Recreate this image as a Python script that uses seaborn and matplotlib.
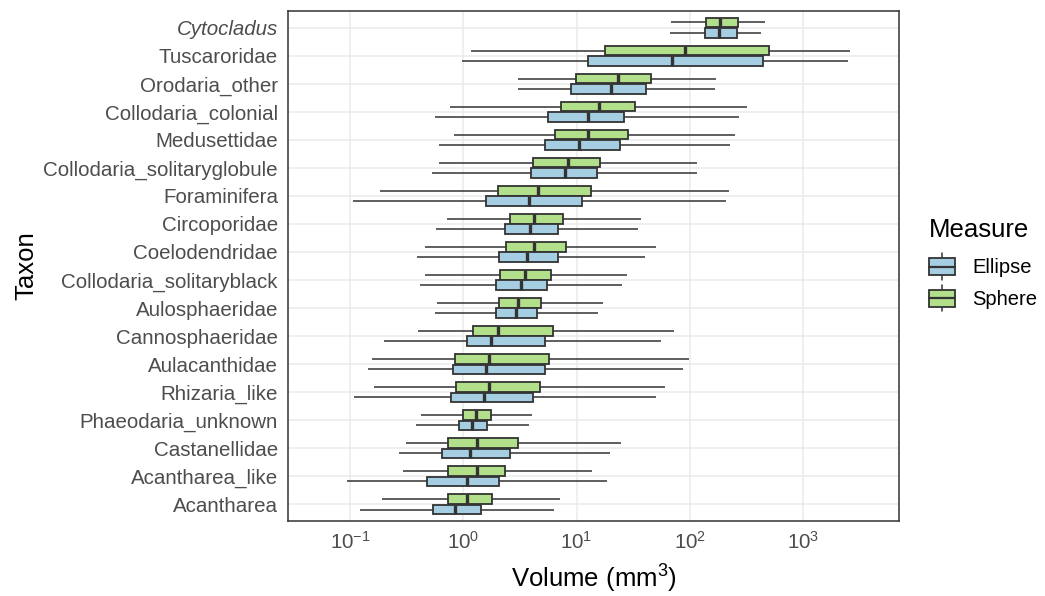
import numpy as np
import pandas as pd
import matplotlib
matplotlib.use("Agg")
import matplotlib.pyplot as plt
from matplotlib.patches import Rectangle, Patch
from matplotlib.lines import Line2D
from matplotlib.legend_handler import HandlerBase
from matplotlib.ticker import NullLocator
import seaborn as sns

# Taxa from top to bottom
taxa = ["Cytocladus", "Tuscaroridae", "Orodaria_other", "Collodaria_colonial",
        "Medusettidae", "Collodaria_solitaryglobule", "Foraminifera", "Circoporidae",
        "Coelodendridae", "Collodaria_solitaryblack", "Aulosphaeridae", "Cannosphaeridae",
        "Aulacanthidae", "Rhizaria_like", "Phaeodaria_unknown", "Castanellidae",
        "Acantharea_like", "Acantharea"]

# Box summaries (mm^3): whisker low, Q1, median, Q3, whisker high
ellipse_low = [66.9, 0.976, 3.01, 0.560, 0.612, 0.525, 0.105, 0.578, 0.387, 0.416,
               0.565, 0.200, 0.143, 0.107, 0.384, 0.272, 0.093, 0.122]
ellipse_q1 = [136, 12.7, 8.86, 5.64, 5.29, 3.93, 1.57, 2.31, 2.05, 1.94,
              1.95, 1.08, 0.805, 0.779, 0.908, 0.653, 0.473, 0.534]
ellipse_med = [181, 69.6, 20.1, 12.5, 10.6, 7.85, 3.78, 3.87, 3.63, 3.21,
               2.90, 1.77, 1.58, 1.53, 1.20, 1.15, 1.08, 0.845]
ellipse_q3 = [261, 447, 41.2, 26.5, 24.0, 15.2, 11.2, 6.90, 6.79, 5.47,
              4.47, 5.25, 5.29, 4.16, 1.61, 2.56, 2.06, 1.44]
ellipse_high = [430, 2525, 166, 271, 225, 115, 208, 34.8, 39.9, 25.2,
                15.5, 55.6, 86.5, 50.8, 3.81, 19.7, 18.6, 6.27]

sphere_low = [67.9, 1.16, 3.04, 0.754, 0.818, 0.612, 0.183, 0.719, 0.454, 0.458,
              0.588, 0.399, 0.157, 0.163, 0.426, 0.314, 0.292, 0.189]
sphere_q1 = [140, 17.9, 9.84, 7.25, 6.42, 4.16, 2.01, 2.56, 2.39, 2.10,
             2.06, 1.21, 0.845, 0.859, 0.984, 0.731, 0.731, 0.725]
sphere_med = [186, 91.5, 23.3, 15.7, 12.5, 8.38, 4.58, 4.23, 4.23, 3.48,
              3.06, 2.01, 1.69, 1.69, 1.30, 1.32, 1.33, 1.08]
sphere_q3 = [265, 505, 45.8, 32.9, 28.7, 16.2, 13.5, 7.60, 8.11, 5.93,
             4.84, 6.22, 5.74, 4.73, 1.74, 3.01, 2.35, 1.80]
sphere_high = [462, 2608, 170, 319, 252, 116, 222, 37.4, 50.0, 27.8,
               17.1, 71.9, 99.2, 60.2, 4.06, 24.6, 13.6, 7.13]

measures = ["Ellipse", "Sphere"]
colors = {"Ellipse": "#A6CEE3", "Sphere": "#B2DF8A"}
x_ticks = [0.1, 1, 10, 100, 1000]

# Long table: five summary values per taxon and measure
rows = []
for m, cols in (("Ellipse", (ellipse_low, ellipse_q1, ellipse_med, ellipse_q3, ellipse_high)),
                ("Sphere", (sphere_low, sphere_q1, sphere_med, sphere_q3, sphere_high))):
    for i, t in enumerate(taxa):
        for c in cols:
            rows.append({"Taxon": t, "Measure": m, "Volume": c[i]})
df = pd.DataFrame(rows)

sns.set_style("white")
plt.rcParams["font.family"] = ["Liberation Sans", "DejaVu Sans"]
plt.rcParams["mathtext.fontset"] = "custom"
plt.rcParams["mathtext.rm"] = "Liberation Sans"
plt.rcParams["mathtext.it"] = "Liberation Sans:italic"
plt.rcParams["mathtext.default"] = "regular"

dark = "#333333"
fig = plt.figure(figsize=(10.45, 5.96), dpi=100)
ax = fig.add_axes([288 / 1045, 1 - 521 / 596, (899 - 288) / 1045, (521 - 11) / 596])

sns.boxplot(data=df, x="Volume", y="Taxon", hue="Measure", order=taxa,
            hue_order=["Sphere", "Ellipse"], palette=colors, saturation=1, orient="h",
            log_scale=True, whis=(0, 100), showfliers=False, width=0.76, gap=0.08,
            linecolor=dark, linewidth=1.3,
            whiskerprops={"linewidth": 1.1},
            medianprops={"color": dark, "linewidth": 2.4, "solid_capstyle": "butt"},
            capprops={"linewidth": 0}, legend=False, ax=ax)

ax.set_xlim(0.0282, 7063)
ax.set_ylim(len(taxa) - 0.4, -0.6)
ax.set_xticks(x_ticks)
ax.xaxis.set_minor_locator(NullLocator())
ax.grid(True, which="major", color="#EBEBEB", linewidth=1.1)
ax.set_axisbelow(True)
for s in ax.spines.values():
    s.set_color(dark)
    s.set_linewidth(1.1)
ax.tick_params(axis="both", which="major", length=3.2, width=1.0, color=dark,
               labelcolor="#4D4D4D", labelsize=14.75, pad=4)
for lbl in ax.get_yticklabels():
    if lbl.get_text() == "Cytocladus":
        lbl.set_fontstyle("italic")

ax.set_xlabel("Volume (mm$^{3}$)", fontsize=18.5, color="black", labelpad=7)
ax.set_ylabel("Taxon", fontsize=18.5, color="black", labelpad=4)


class BoxKey(HandlerBase):
    def create_artists(self, legend, orig_handle, xdescent, ydescent, width, height,
                       fontsize, trans):
        x0, y0 = -xdescent, -ydescent
        cx, cy = x0 + width / 2, y0 + height / 2
        bh = height * 0.8
        whisk = Line2D([cx, cx], [cy - height * 0.62, cy + height * 0.62], color=dark,
                       linewidth=1.1, transform=trans)
        box = Rectangle((x0, cy - bh / 2), width, bh, facecolor=orig_handle.get_facecolor(),
                        edgecolor=dark, linewidth=1.3, transform=trans)
        med = Line2D([x0, x0 + width], [cy, cy], color=dark, linewidth=1.6, transform=trans)
        return [whisk, box, med]


handles = [Patch(facecolor=colors[m]) for m in measures]
leg = fig.legend(handles, measures, title="Measure", loc="upper left",
                 bbox_to_anchor=(929 / 1045, 1 - 218 / 596), frameon=False,
                 fontsize=14.5, title_fontsize=18.5, handlelength=1.3, handleheight=1.25,
                 handletextpad=0.85, labelspacing=0.5, borderpad=0, borderaxespad=0,
                 alignment="left", handler_map={Patch: BoxKey()})
leg._legend_box.sep = 10
for t in leg.get_texts():
    t.set_color("black")
leg.get_title().set_color("black")

fig.savefig("out.png", dpi=100)
